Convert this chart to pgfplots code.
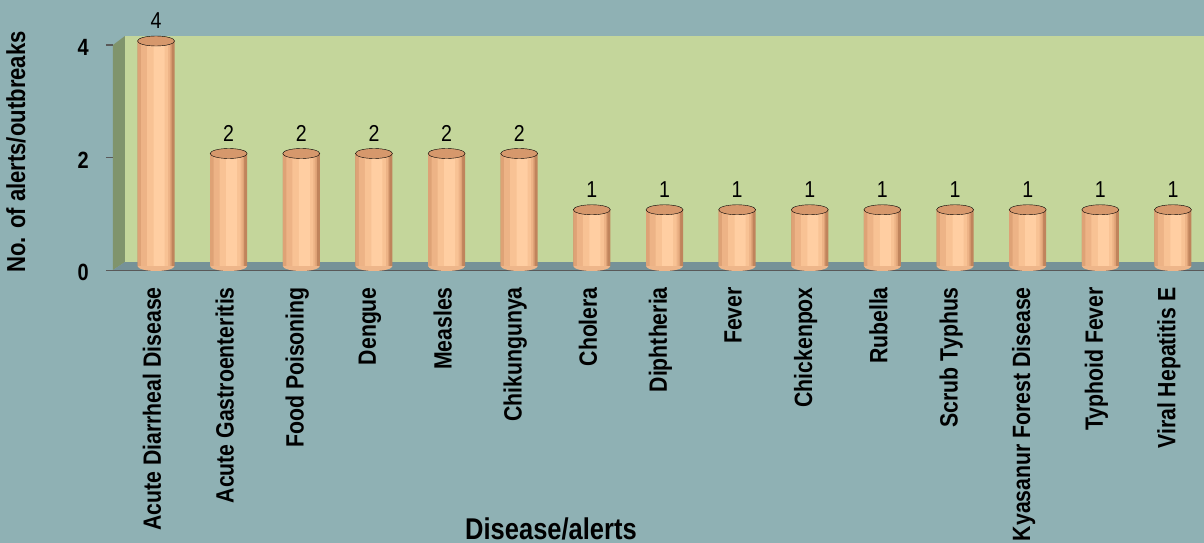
\documentclass[border=0pt]{standalone}
\usepackage{fontspec}
\setmainfont{Liberation Sans}[FakeStretch=0.85]
\usepackage{pgfplots}
\usepackage{pgfplotstable}
\pgfplotsset{compat=1.18}
\definecolor{bg}{RGB}{143,177,180}
\definecolor{wall}{RGB}{196,214,155}
\definecolor{sidewall}{RGB}{128,148,108}
\definecolor{floorc}{RGB}{118,146,152}
\definecolor{b1}{RGB}{192,132,92}
\definecolor{b2}{RGB}{222,162,118}
\definecolor{b3}{RGB}{237,179,134}
\definecolor{b4}{RGB}{248,194,148}
\definecolor{b5}{RGB}{255,206,162}
\definecolor{bartop}{RGB}{214,152,108}
\definecolor{barbot}{RGB}{238,182,138}
\pgfdeclareplotmark{lowerhalf}{%
  \pgfpathmoveto{\pgfqpoint{-\pgfplotmarksize}{0pt}}%
  \pgfpatharc{180}{360}{\pgfplotmarksize}%
  \pgfpathclose
  \pgfusepathqfill}
\pgfplotstableread{
x y
0 4
1 2
2 2
3 2
4 2
5 2
6 1
7 1
8 1
9 1
10 1
11 1
12 1
13 1
14 1
}\datatable
\begin{document}
\begin{tikzpicture}
\fill[bg] (-119.7pt,-277pt) rectangle (1084.3pt,266pt);
\useasboundingbox (-119.7pt,-277pt) rectangle (1084.3pt,266pt);
\begin{axis}[
  at={(0pt,0pt)}, anchor=south west,
  scale only axis, width=1089.6pt, height=225pt,
  xmin=-0.5, xmax=14.5, ymin=0, ymax=4,
  clip=false,
  axis line style={draw=none}, tick style={draw=none},
  xtick={0,...,14},
  xticklabels={Acute Diarrheal Disease,Acute Gastroenteritis,Food Poisoning,Dengue,Measles,Chikungunya,Cholera,Diphtheria,Fever,Chickenpox,Rubella,Scrub Typhus,Kyasanur Forest Disease,Typhoid Fever,Viral Hepatitis E},
  ytick={0,2,4},
  /pgf/number format/assume math mode=true,
  xticklabel style={xshift=-4pt, rotate=90, anchor=east, inner sep=0pt, font=\bfseries\fontsize{25}{28}\selectfont},
  xticklabel shift=21pt,
  yticklabel style={anchor=east, inner sep=0pt, yshift=-6.5pt, font=\bfseries\fontsize{23.5}{25}\selectfont},
  yticklabel shift=30.7pt,
]
% 3D walls
\fill[wall] ([xshift=5.3pt,yshift=4pt]axis cs:-0.5,0) rectangle ([yshift=5pt]axis cs:14.5,4);
\fill[sidewall] ([xshift=-6.7pt,yshift=-4pt]axis cs:-0.5,0) -- ([xshift=5.3pt,yshift=4pt]axis cs:-0.5,0) -- ([xshift=5.3pt,yshift=5pt]axis cs:-0.5,4) -- ([xshift=-6.7pt,yshift=-4pt]axis cs:-0.5,4) -- cycle;
\fill[floorc] ([xshift=-6.7pt,yshift=-4pt]axis cs:-0.5,0) -- ([xshift=5.3pt,yshift=4pt]axis cs:-0.5,0) -- ([yshift=4pt]axis cs:14.5,0) -- ([yshift=-4pt]axis cs:14.5,0) -- cycle;
\draw[gray!70!black, line width=1.5pt] ([xshift=-13.7pt,yshift=-4.5pt]axis cs:-0.5,0) -- ([yshift=-4.5pt]axis cs:14.5,0);
\draw[gray!70!black, line width=1.2pt] ([xshift=-13.7pt,yshift=-4pt]axis cs:-0.5,2) -- ([xshift=-6.7pt,yshift=-4pt]axis cs:-0.5,2);
\draw[gray!70!black, line width=1.2pt] ([xshift=-13.7pt,yshift=-4pt]axis cs:-0.5,4) -- ([xshift=-6.7pt,yshift=-4pt]axis cs:-0.5,4);
% cylinder bodies (layered for shading)
\addplot[ybar, bar width=37pt, bar shift=0pt, draw=none, fill=b1] table[x=x,y=y] {\datatable};
\addplot[ybar, bar width=34pt, bar shift=-1.5pt, draw=none, fill=b2] table[x=x,y=y] {\datatable};
\addplot[ybar, bar width=29pt, bar shift=-0.5pt, draw=none, fill=b3] table[x=x,y=y] {\datatable};
\addplot[ybar, bar width=21pt, bar shift=1.5pt, draw=none, fill=b4] table[x=x,y=y] {\datatable};
\addplot[ybar, bar width=11pt, bar shift=3pt, draw=none, fill=b5] table[x=x,y=y] {\datatable};
% rounded bottoms
\addplot[only marks, mark=lowerhalf, mark size=18.5pt, mark options={yscale=0.27, draw=none, fill=barbot}]
  table[x=x,y expr=0] {\datatable};
% tops and value labels
\addplot[only marks, mark=*, mark size=18.5pt, mark options={yscale=0.27, draw=none, fill=bartop},
  nodes near coords, every node near coord/.append style={anchor=center, yshift=20.5pt, font=\fontsize{23}{25}\selectfont, text=black}]
  table[x=x,y=y] {\datatable};
\end{axis}
\node[rotate=90, font=\bfseries\fontsize{26}{28}\selectfont] at (-103.7pt,114pt) {No. of alerts/outbreaks};
\node[anchor=base, font=\bfseries\fontsize{30}{32}\selectfont] at (431.3pt,-273pt) {Disease/alerts};
\end{tikzpicture}
\end{document}
